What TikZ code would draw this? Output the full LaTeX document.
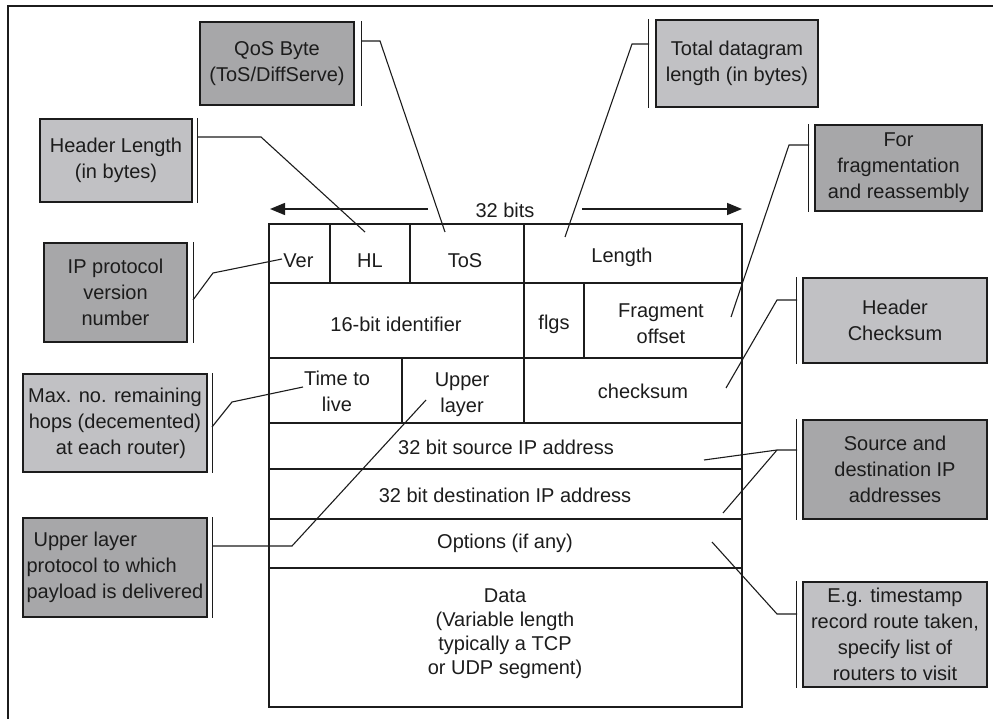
\documentclass[tikz,border=0pt]{standalone}
\usepackage{fontspec}
\setmainfont{Liberation Sans}
\usetikzlibrary{arrows.meta}
\definecolor{darkbox}{RGB}{167,167,169}
\definecolor{lightbox}{RGB}{193,193,196}
\definecolor{ink}{RGB}{28,28,28}
\begin{document}
\begin{tikzpicture}[x=1pt,y=-1pt,
  every node/.style={font=\fontsize{20}{26}\selectfont, text=ink},
  callout/.style={draw=ink, line width=1.4pt, inner sep=0pt, align=center},
  dkbox/.style={callout, fill=darkbox},
  ltbox/.style={callout, fill=lightbox},
  tbl/.style={draw=ink, line width=1.5pt},
  conn/.style={draw=ink, line width=1.1pt},
  dbl/.style={draw=ink, line width=1.4pt},
  cell/.style={anchor=base, inner sep=0pt},
  mcell/.style={inner sep=0pt, align=center},
  bitarrow/.style={draw=ink, line width=1.5pt, -{Triangle[length=15pt,width=12pt]}},
]
\useasboundingbox (0,0) rectangle (993,719);
% outer frame (cropped)
\draw[ink, line width=1.6pt] (8,719) -- (8,6) -- (993,6);

% ---------- header table ----------
\draw[tbl] (269,224) rectangle (742,707);
\foreach \y in {283,358,423,469,519,568}
  \draw[tbl] (269,\y) -- (742,\y);
\draw[tbl] (330,224) -- (330,283);
\draw[tbl] (410,224) -- (410,283);
\draw[tbl] (524,224) -- (524,423);
\draw[tbl] (584,283) -- (584,358);
\draw[tbl] (402,358) -- (402,423);

% width arrow
\node[inner sep=0pt] (bits) at (505,210) {32 bits};
\coordinate (bitsL) at (428,209);
\coordinate (bitsR) at (582,209);
\coordinate (tblL) at (270,209);
\coordinate (tblR) at (742,209);
\draw[bitarrow] (bitsL) -- (tblL);
\draw[bitarrow] (bitsR) -- (tblR);

% cell texts
\node[cell] (ver) at (298.5,268) {Ver};
\node[cell] (hl) at (370,268) {HL};
\node[cell] (tos) at (465,268) {ToS};
\node[cell] (len) at (622,263) {Length};
\node[cell] (ident) at (396,331) {16-bit identifier};
\node[cell] (flgs) at (554,330) {flgs};
\node[mcell] (fragoff) at (661,324) {Fragment\\offset};
\node[mcell] (ttl) at (337,391) {Time to\\live};
\node[mcell] (ulayer) at (462,395) {Upper\\layer};
\node[cell] (cks) at (643,398) {checksum};
\node[cell] (src) at (506,454) {32 bit source IP address};
\node[cell] (dst) at (505,502) {32 bit destination IP address};
\node[cell] (opt) at (505,548) {Options (if any)};
\node[mcell, font=\fontsize{20}{24}\selectfont] (data) at (505,634)
  {Data\\(Variable length\\typically a TCP\\or UDP segment)};

% ---------- callout boxes ----------
\node[dkbox, minimum width=154pt, minimum height=83pt] (qos) at (277,63.5) {QoS Byte\\(ToS/DiffServe)};
\node[ltbox, minimum width=152pt, minimum height=83pt] (hlen) at (116,160.5) {Header Length\\(in bytes)};
\node[ltbox, minimum width=162pt, minimum height=87pt] (total) at (737,63.5) {Total datagram\\length (in bytes)};
\node[dkbox, minimum width=167pt, minimum height=86pt] (frag) at (898.5,168) {For\\fragmentation\\and reassembly};
\node[dkbox, minimum width=143pt, minimum height=99pt] (ipver) at (115.5,292.5) {IP protocol\\version\\number};
\node[ltbox, minimum width=184pt, minimum height=98pt] (maxno) at (115,423) {Max. no. remaining\\hops (decemented)\\\hspace{12pt}at each router)};
\node[ltbox, minimum width=184pt, minimum height=85pt] (hcs) at (895,320.5) {Header\\Checksum};
\node[dkbox, minimum width=184pt, minimum height=99pt] (srcdst) at (895,469.5) {Source and\\destination IP\\addresses};
\node[dkbox, minimum width=184pt, minimum height=99pt, align=left] (upper) at (115,567.5) {\hspace{7pt}Upper layer\\protocol to which\\payload is delivered};
\node[ltbox, minimum width=184pt, minimum height=105pt] (eg) at (895,634.5) {E.g. timestamp\\record route taken,\\specify list of\\routers to visit};

% double lines beside boxes
\draw[dbl] ([xshift=7pt]qos.north east) -- ([xshift=7pt]qos.south east);
\draw[dbl] ([xshift=5pt]hlen.north east) -- ([xshift=5pt]hlen.south east);
\draw[dbl] ([xshift=-7pt]total.north west) -- ([xshift=-7pt]total.south west);
\draw[dbl] ([xshift=-6pt]frag.north west) -- ([xshift=-6pt]frag.south west);
\draw[dbl] ([xshift=6pt]ipver.north east) -- ([xshift=6pt]ipver.south east);
\draw[dbl] ([xshift=5pt]maxno.north east) -- ([xshift=5pt]maxno.south east);
\draw[dbl] ([xshift=-6pt]hcs.north west) -- ([xshift=-6pt]hcs.south west);
\draw[dbl] ([xshift=-6pt]srcdst.north west) -- ([xshift=-6pt]srcdst.south west);
\draw[dbl] ([xshift=5pt]upper.north east) -- ([xshift=5pt]upper.south east);
\draw[dbl] ([xshift=-6pt]eg.north west) -- ([xshift=-6pt]eg.south west);

% connector end points
\coordinate (qosA) at (361,41);     \coordinate (tosP) at (445,232);
\coordinate (hlenA) at (197,137);   \coordinate (hlP) at (365,232);
\coordinate (totalA) at (649,44);   \coordinate (lenP) at (565,237);
\coordinate (fragA) at (809,145);   \coordinate (fragP) at (731,317);
\coordinate (ipverA) at (193,300);  \coordinate (verP) at (282,259);
\coordinate (maxnoA) at (212,427);  \coordinate (ttlP) at (303,387);
\coordinate (hcsA) at (797,300);    \coordinate (cksP) at (726,388);
\coordinate (srcdstA) at (797,450); \coordinate (srcP) at (704,460); \coordinate (dstP) at (723,513);
\coordinate (upperA) at (212,546);  \coordinate (ulP) at (426,400);
\coordinate (egA) at (797,614);     \coordinate (optP) at (712,542);

% connectors
\draw[conn] (qosA) -- (380,41) -- (tosP);
\draw[conn] (hlenA) -- (261,137) -- (hlP);
\draw[conn] (totalA) -- (632,44) -- (lenP);
\draw[conn] (fragA) -- (789,145) -- (fragP);
\draw[conn] (ipverA) -- (213,273) -- (verP);
\draw[conn] (maxnoA) -- (232,402) -- (ttlP);
\draw[conn] (hcsA) -- (777,300) -- (cksP);
\draw[conn] (srcdstA) -- (777,450) -- (srcP);
\draw[conn] (777,450) -- (dstP);
\draw[conn] (upperA) -- (292,546) -- (ulP);
\draw[conn] (egA) -- (777,614) -- (optP);
\end{tikzpicture}
\end{document}
